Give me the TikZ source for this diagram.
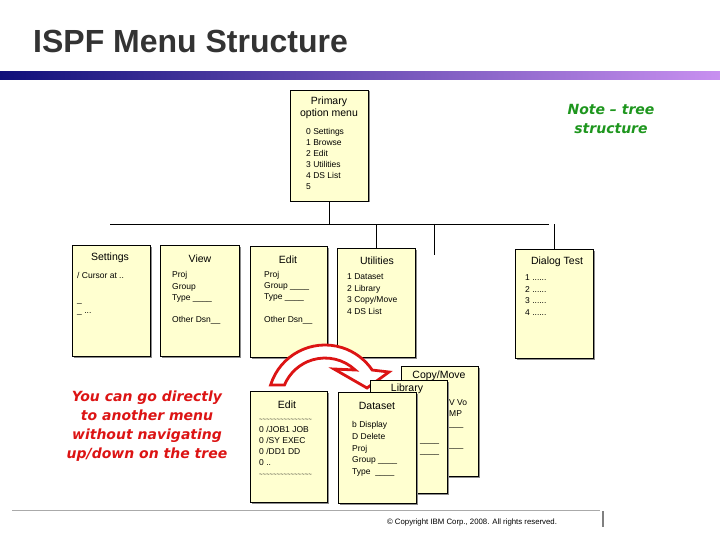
\documentclass[tikz,border=0pt]{standalone}
\usepackage{fontspec}
\setmainfont{Liberation Sans}
\newfontfamily\notefont{DejaVu Sans}
\usetikzlibrary{shadows}
\definecolor{cream}{RGB}{255,255,208}
\definecolor{titlegray}{RGB}{51,51,51}
\definecolor{notegreen}{RGB}{30,150,30}
\definecolor{notered}{RGB}{220,20,20}
\definecolor{barnavy}{RGB}{16,16,122}
\definecolor{barsky}{RGB}{144,216,248}
\definecolor{barviolet}{RGB}{200,144,240}
\definecolor{rulegray}{RGB}{170,170,170}
\newcommand{\editrule}{{\fontsize{6}{6}\selectfont\textasciitilde\textasciitilde\textasciitilde\textasciitilde\textasciitilde\textasciitilde\textasciitilde\textasciitilde\textasciitilde\textasciitilde\textasciitilde\textasciitilde\textasciitilde\textasciitilde\textasciitilde}}
\tikzset{
  menu/.style={draw=black, line width=0.8pt, fill=cream, inner sep=0pt,
    minimum width=78pt, minimum height=111pt,
    drop shadow={shadow xshift=1.5pt, shadow yshift=-1.5pt, fill=black!45, opacity=1}},
  menutitle/.style={inner sep=0pt, align=center, font=\fontsize{10.5}{12}\selectfont},
  menulist/.style={inner sep=0pt, anchor=north west, align=left, font=\fontsize{8.5}{11.3}\selectfont},
  note/.style={inner sep=0pt, align=center, font=\notefont\bfseries\itshape\fontsize{14}{19}\selectfont},
  arrowband/.style={draw=notered, line width=2.8pt, fill=white, line join=miter},
}
\begin{document}
\begin{tikzpicture}[x=1pt, y=-1pt]
\useasboundingbox (0,0) rectangle (720,540);
% heading and bar
\node[anchor=west, inner sep=0pt, text=titlegray, font=\bfseries\fontsize{32}{36}\selectfont] (title) at (33,41) {ISPF Menu Structure};
\shade[left color=barnavy, middle color=barsky, right color=barviolet] (0,72) rectangle (720,80);

% primary option menu
\node[menu] (primary) at (329,145.5) {};
\node[menutitle] (primary title) at (329,108) {Primary\\option menu};
\node[menulist, font=\fontsize{8.5}{11}\selectfont] (primary list) at (306,128.5) {0 Settings\\1 Browse\\2 Edit\\3 Utilities\\4 DS List\\5};

% tree
\coordinate (bus west) at (110,224);
\coordinate (bus east) at (549,224);
\coordinate (bus stub) at (434,224);
\draw (primary.south) -- (primary.south |- bus west);
\draw (bus west) -- (bus east);

% second level
\node[menu] (settings) at (111,300.5) {};
\node[menutitle] (settings title) at (110,258) {Settings};
\node[menulist] (settings list) at (77,272.5) {/ Cursor at ..\\[12pt]\_\\\_ ...};

\node[menu, minimum width=79pt] (view) at (199.5,300.5) {};
\node[menutitle] (view title) at (200,259) {View};
\node[menulist] (view list) at (172,271.5) {Proj\\Group\\Type \_\_\_\_\\[11pt]Other Dsn\_\_};

\node[menu, minimum width=77pt] (edit) at (288.5,301.5) {};
\node[menutitle] (edit title) at (288,260) {Edit};
\node[menulist] (edit list) at (264,271) {Proj\\Group \_\_\_\_\\Type \_\_\_\_\\[11pt]Other Dsn\_\_};

\node[menu, minimum height=109pt] (utilities) at (376,302.5) {};
\node[menutitle] (utilities title) at (377,261) {Utilities};
\node[menulist, font=\fontsize{8.5}{11.6}\selectfont] (utilities list) at (347,273.5) {1 Dataset\\2 Library\\3 Copy/Move\\4 DS List};

\node[menu, minimum height=109pt] (dialog) at (554,303.5) {};
\node[menutitle] (dialog title) at (557,262) {Dialog Test};
\node[menulist, font=\fontsize{8.5}{11.5}\selectfont] (dialog list) at (525,274.5) {1 ......\\2 ......\\3 ......\\4 ......};

\draw (utilities.north) -- (utilities.north |- bus west);
\draw (dialog.north) -- (dialog.north |- bus east);
\draw (bus stub) -- ++(0,31);

% jump arrow
\draw[arrowband] (270.6,385) arc[start angle=197.35, end angle=325.9, radius=57]
  -- (389,372) -- (367,388) -- (334,369) -- (355.2,370)
  arc[start angle=313.3, end angle=202.7, radius=44] -- cycle;

% third level
\node[menu, minimum width=77pt] (edit job) at (288.5,446.5) {};
\node[menutitle] (edit job title) at (287,405) {Edit};
\node[menulist, font=\fontsize{8.5}{11}\selectfont] (edit job list) at (259,419) {\editrule\\0 /JOB1 JOB\\0 /SY EXEC\\0 /DD1 DD\\0 ..\\\editrule};

\node[menu, minimum width=77pt, minimum height=110pt] (copymove) at (439.5,421) {};
\node[menutitle] (copymove title) at (439,376) {Copy/Move};
\node[menulist, font=\fontsize{8.5}{10.5}\selectfont] (copymove list) at (449,399.5) {V Vo\\MP\\\_\_\_\\[10pt]\_\_\_};

\node[menu, minimum width=77pt, minimum height=113pt] (library) at (408.5,436.5) {};
\node[menutitle] (library title) at (407,389) {Library};
\node[menulist] (library list) at (420,442) {\_\_\_\_\\\_\_\_\_};

\node[menu] (dataset) at (377,447.5) {};
\node[menutitle] (dataset title) at (377,406) {Dataset};
\node[menulist, font=\fontsize{8.5}{11.7}\selectfont] (dataset list) at (352,421.5) {b Display\\D Delete\\Proj\\Group \_\_\_\_\\Type \ \_\_\_\_};

% notes
\node[note, text=notegreen] (tree note) at (611,119) {Note – tree\\structure};
\node[note, text=notered] (jump note) at (147,426.5) {You can go directly\\to another menu\\without navigating\\up/down on the tree};

% footer
\coordinate (footer west) at (12,510);
\coordinate (footer east) at (600,510);
\draw[rulegray] (footer west) -- (footer east);
\draw[gray, line width=2pt] (603,511) -- (603,527);
\node[inner sep=0pt, font=\fontsize{7.8}{9}\selectfont] (copyright) at (472,522) {© Copyright IBM Corp., 2008. All rights reserved.};
\end{tikzpicture}
\end{document}
